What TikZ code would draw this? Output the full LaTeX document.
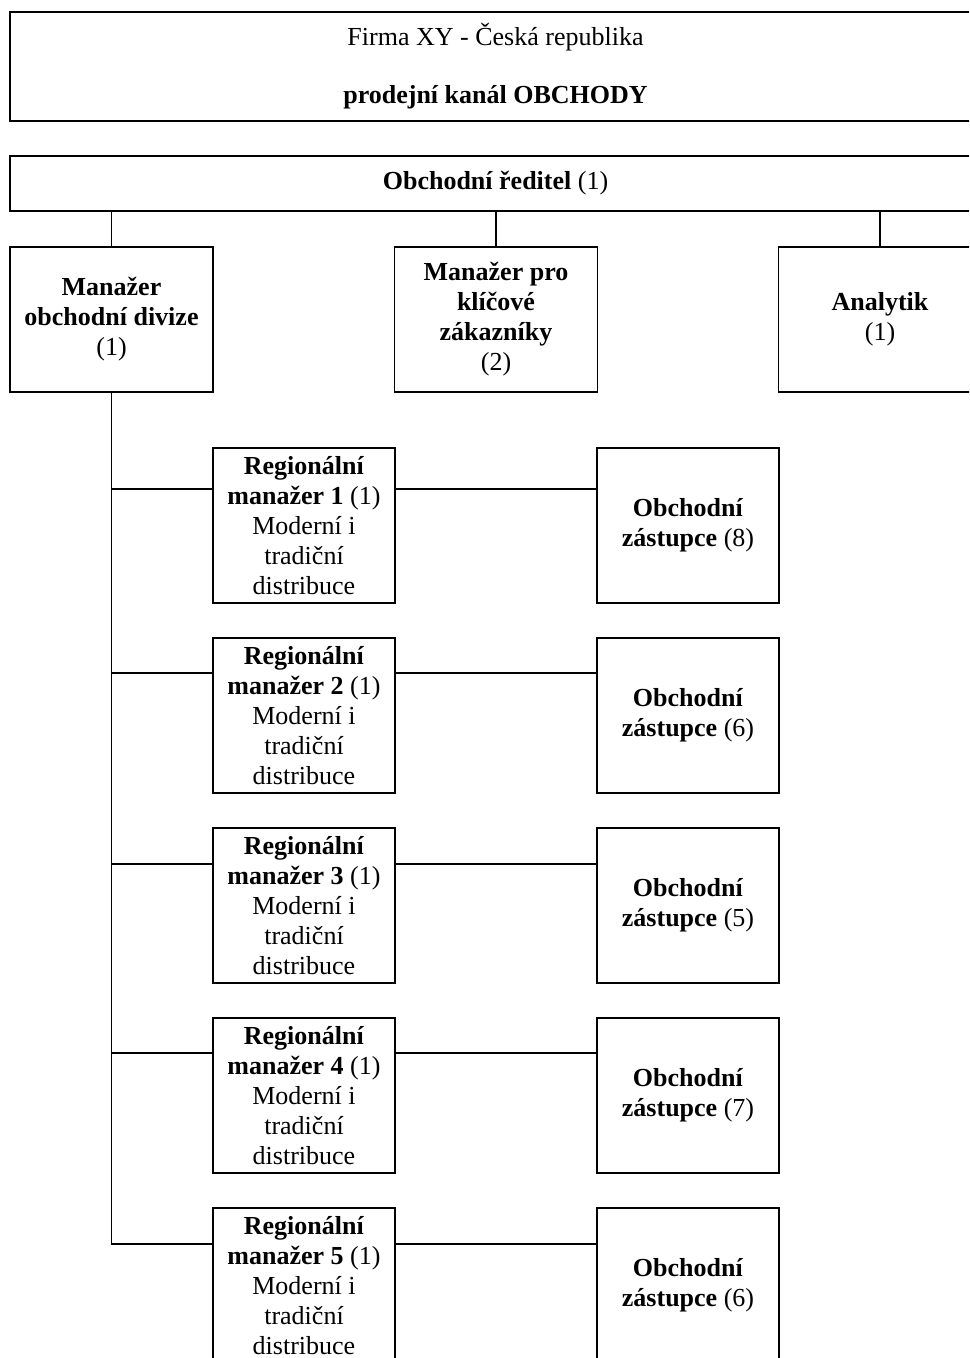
\documentclass[tikz,border=0pt]{standalone}
\usepackage{fontspec}
\setmainfont{Liberation Serif}
\begin{document}
\begin{tikzpicture}[x=0.5pt,y=-0.5pt,
  box/.style={draw, line width=0.85pt, rectangle, inner sep=0pt, align=center, font=\fontsize{13}{15}\selectfont},
  mgrbox/.style={box, minimum width=101.5pt, minimum height=72.5pt},
  regbox/.style={box, minimum width=91pt, minimum height=77.5pt},
  widebox/.style={box, minimum width=485.5pt},
  link/.style={line width=0.85pt, line join=miter}]
\useasboundingbox (0,0) rectangle (969,1358);
\clip (0,0) rectangle (969,1358);
% header
\node[widebox, minimum height=54.5pt] (firm) at (495.5,66.5) {\rule{0pt}{8pt}Firma XY - Česká republika\\[14pt]\textbf{prodejní kanál OBCHODY}};
\node[widebox, minimum height=27.5pt] (ceo) at (495.5,183.5) {\textbf{Obchodní ředitel} (1)};
% second level
\node[mgrbox] (A) at (111.5,319.5) {\textbf{Manažer}\\\textbf{obchodní divize}\\(1)};
\node[mgrbox] (B) at (496,319.5) {\textbf{Manažer pro}\\\textbf{klíčové}\\\textbf{zákazníky}\\(2)};
\node[mgrbox] (C) at (880,319.5) {\textbf{Analytik}\\(1)};
\draw[link] (A.north |- ceo.south) -- (A.north);
\draw[link] (B.north |- ceo.south) -- (B.north);
\draw[link] (C.north |- ceo.south) -- (C.north);
% regional managers and representatives
\node[regbox] (R1) at (304,525.5) {\textbf{Regionální}\\\textbf{manažer 1} (1)\\Moderní i\\tradiční\\distribuce};
\node[regbox] (R2) at (304,715.5) {\textbf{Regionální}\\\textbf{manažer 2} (1)\\Moderní i\\tradiční\\distribuce};
\node[regbox] (R3) at (304,905.5) {\textbf{Regionální}\\\textbf{manažer 3} (1)\\Moderní i\\tradiční\\distribuce};
\node[regbox] (R4) at (304,1095.5) {\textbf{Regionální}\\\textbf{manažer 4} (1)\\Moderní i\\tradiční\\distribuce};
\node[regbox] (R5) at (304,1285.5) {\textbf{Regionální}\\\textbf{manažer 5} (1)\\Moderní i\\tradiční\\distribuce};
\node[regbox] (Z1) at (688,525.5) {\textbf{Obchodní}\\\textbf{zástupce} (8)};
\node[regbox] (Z2) at (688,715.5) {\textbf{Obchodní}\\\textbf{zástupce} (6)};
\node[regbox] (Z3) at (688,905.5) {\textbf{Obchodní}\\\textbf{zástupce} (5)};
\node[regbox] (Z4) at (688,1095.5) {\textbf{Obchodní}\\\textbf{zástupce} (7)};
\node[regbox] (Z5) at (688,1285.5) {\textbf{Obchodní}\\\textbf{zástupce} (6)};
\coordinate (c1) at ([yshift=18.25pt]R1.west);
\coordinate (c2) at ([yshift=21.25pt]R2.west);
\coordinate (c3) at ([yshift=20.75pt]R3.west);
\coordinate (c4) at ([yshift=21.25pt]R4.west);
\coordinate (c5) at ([yshift=20.75pt]R5.west);
\draw[link] (A.south) -- (A.south |- c5) -- (c5);
\foreach \i in {1,2,3,4} {
  \draw[link] (A.south |- c\i) -- (c\i);
}
\foreach \i in {1,...,5} {
  \draw[link] (c\i -| R\i.east) -- (c\i -| Z\i.west);
}
\end{tikzpicture}
\end{document}
